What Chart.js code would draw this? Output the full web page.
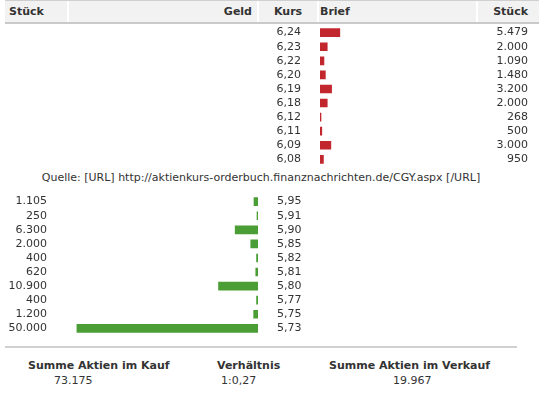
<!DOCTYPE html>
<html>
<head>
<meta charset="utf-8">
<script src="https://cdn.jsdelivr.net/npm/chart.js@4"></script>
<style>
  body { margin: 0; background: #fff; font-family: 'DejaVu Sans', Verdana, sans-serif; font-size: 11px; color: #333; }
  #page { position: relative; width: 539px; height: 399px; overflow: hidden; }
  .kopf { position: absolute; z-index: 2; left: 5px; top: 0; width: 534px; height: 21px; background: #f2f2f2;
          border-top: 1px solid #cfcfcf; border-bottom: 2px solid #cacaca; }
  .trenn { position: absolute; z-index: 3; top: 1px; width: 2px; height: 21px; background: #fff; }
  .kopf span, .fuss span { position: absolute; font-weight: bold; white-space: nowrap; }
  .box { position: absolute; z-index: 1; left: 0; width: 539px; height: 154px; }
  .quelle { position: absolute; left: 5px; width: 512px; top: 171px; text-align: center; white-space: nowrap; }
  .linie { position: absolute; left: 5px; width: 512px; top: 346px; height: 0; border-top: 2px solid #d0d0d0; }
  .fuss span.wert { font-weight: normal; }
</style>
</head>
<body>
<div id="page">
  <div class="kopf">
    <span style="left:4px; top:4px;">Stück</span>
    <span style="right:287px; top:4px;">Geld</span>
    <span style="left:269px; top:4px;">Kurs</span>
    <span style="left:315px; top:4px;">Brief</span>
    <span style="right:11px; top:4px;">Stück</span>
  </div>
  <div class="trenn" style="left:67px"></div>
  <div class="trenn" style="left:257px"></div>
  <div class="trenn" style="left:317px"></div>
  <div class="trenn" style="left:476px"></div>

  <!-- Box etwas groesser, weil Chart.js oben/unten eine halbe Zeilenhoehe abzieht -->
  <div class="box" style="top:19px"><canvas id="chartBrief"></canvas></div>
  <div class="quelle">Quelle: [URL] http://aktienkurs-orderbuch.finanznachrichten.de/CGY.aspx [/URL]</div>
  <div class="box" style="top:188px"><canvas id="chartGeld"></canvas></div>

  <div class="linie"></div>
  <div class="fuss">
    <span style="left:28px; top:359px;">Summe Aktien im Kauf</span>
    <span class="wert" style="left:54px; top:374px;">73.175</span>
    <span style="left:217px; top:359px;">Verhältnis</span>
    <span class="wert" style="left:221px; top:374px;">1:0,27</span>
    <span style="left:329px; top:359px;">Summe Aktien im Verkauf</span>
    <span class="wert" style="left:393px; top:374px;">19.967</span>
  </div>
</div>

<script>
// Briefseite (Verkauf)
const briefKurs = ['6,24', '6,23', '6,22', '6,20', '6,19', '6,18', '6,12', '6,11', '6,09', '6,08'];
const briefStueck = [5479, 2000, 1090, 1480, 3200, 2000, 268, 500, 3000, 950];

// Geldseite (Kauf)
const geldKurs = ['5,95', '5,91', '5,90', '5,85', '5,82', '5,81', '5,80', '5,77', '5,75', '5,73'];
const geldStueck = [1105, 250, 6300, 2000, 400, 620, 10900, 400, 1200, 50000];

// Zahl mit Tausenderpunkt
function fmt(n) {
    return String(n).replace(/\B(?=(\d{3})+(?!\d))/g, '.');
}

const schrift = { family: "'DejaVu Sans', Verdana, sans-serif", size: 11 };
const textFarbe = '#333';

// unsichtbare Tick-Striche als Abstand zwischen Balken und Text
function abstand(px) {
    return { display: true, drawOnChartArea: false, drawTicks: true, tickLength: px, color: 'rgba(0,0,0,0)' };
}

new Chart(document.getElementById('chartBrief'), {
    type: 'bar',
    data: {
        labels: briefKurs,
        datasets: [{
            data: briefStueck,
            backgroundColor: '#c1272d',
            barThickness: 8,
            minBarLength: 1
        }]
    },
    options: {
        indexAxis: 'y',
        responsive: true,
        maintainAspectRatio: false,
        animation: false,
        layout: { padding: { left: 0, right: 11, top: 0, bottom: 0 } },
        scales: {
            x: { display: false, min: 0, max: 46000 },
            y: {
                position: 'left',
                offset: true,
                grid: abstand(19),
                border: { display: false },
                ticks: { font: schrift, color: textFarbe, padding: 0, autoSkip: false },
                afterFit: s => { s.width = 320; }
            },
            y2: {
                type: 'category',
                labels: briefStueck.map(fmt),
                position: 'right',
                offset: true,
                grid: abstand(10),
                border: { display: false },
                ticks: { font: schrift, color: textFarbe, padding: 0, autoSkip: false, crossAlign: 'far' }
            }
        },
        plugins: { legend: { display: false }, tooltip: { enabled: false } }
    }
});

new Chart(document.getElementById('chartGeld'), {
    type: 'bar',
    data: {
        labels: geldKurs,
        datasets: [{
            data: geldStueck,
            backgroundColor: '#4b9e35',
            barThickness: 8,
            minBarLength: 1
        }]
    },
    options: {
        indexAxis: 'y',
        responsive: true,
        maintainAspectRatio: false,
        animation: false,
        layout: { padding: 0 },
        scales: {
            x: { display: false, min: 0, max: 55500, reverse: true },
            y: {
                position: 'right',
                offset: true,
                grid: abstand(19),
                border: { display: false },
                ticks: { font: schrift, color: textFarbe, padding: 0, autoSkip: false, crossAlign: 'near' },
                afterFit: s => { s.width = 281; }
            },
            y2: {
                type: 'category',
                labels: geldStueck.map(fmt),
                position: 'left',
                offset: true,
                grid: abstand(10),
                border: { display: false },
                ticks: { font: schrift, color: textFarbe, padding: 0, autoSkip: false },
                afterFit: s => { s.width = 57; }
            }
        },
        plugins: { legend: { display: false }, tooltip: { enabled: false } }
    }
});
</script>
</body>
</html>
